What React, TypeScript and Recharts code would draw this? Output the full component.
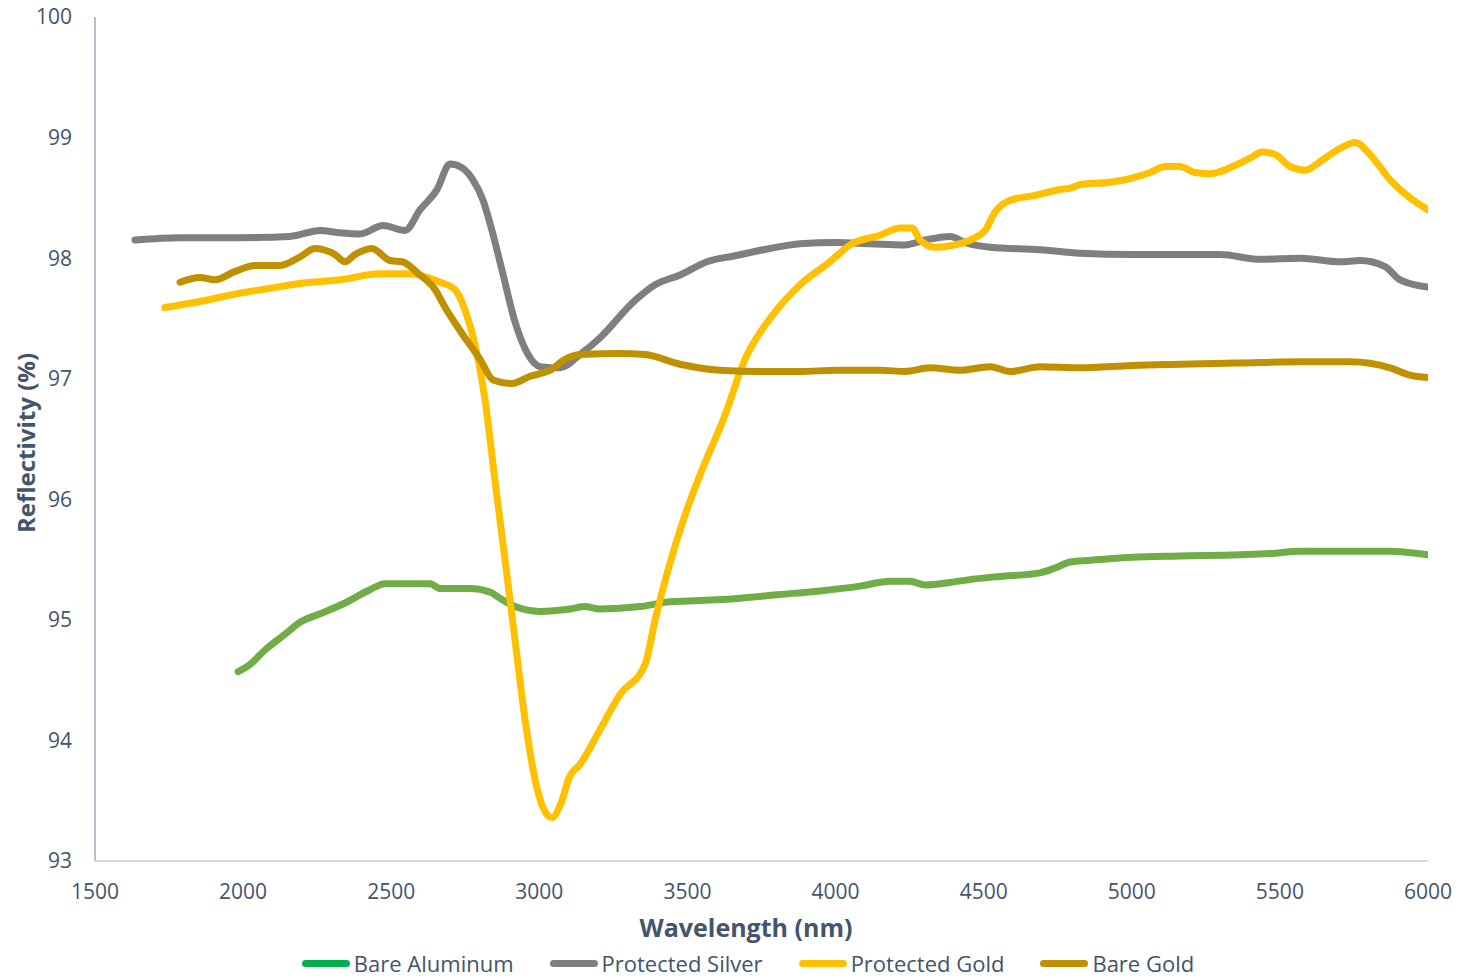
import React from 'react'
import { LineChart, Line, XAxis, YAxis } from 'recharts'

// wavelength (nm) / reflectivity (%)
const alumWl = [1983, 2023, 2074, 2141, 2192, 2260, 2344, 2428, 2479, 2530, 2631, 2665, 2766, 2834, 2867, 2918, 3002, 3104, 3154, 3205, 3340, 3441, 3542, 3678, 3813, 3948, 4083, 4184, 4251, 4302, 4387, 4471, 4555, 4690, 4741, 4792, 4893, 5001, 5163, 5366, 5467, 5568, 5737, 5872, 6000]
const alumRef = [94.57, 94.63, 94.75, 94.88, 94.98, 95.05, 95.14, 95.25, 95.3, 95.3, 95.3, 95.26, 95.26, 95.23, 95.18, 95.11, 95.07, 95.09, 95.11, 95.09, 95.11, 95.15, 95.16, 95.18, 95.21, 95.24, 95.28, 95.32, 95.32, 95.29, 95.31, 95.34, 95.36, 95.39, 95.43, 95.48, 95.5, 95.52, 95.53, 95.54, 95.55, 95.57, 95.57, 95.57, 95.54]

const silverWl = [1635, 1787, 1990, 2158, 2260, 2327, 2395, 2472, 2547, 2597, 2655, 2698, 2739, 2773, 2810, 2840, 2874, 2918, 2962, 3002, 3070, 3137, 3205, 3323, 3391, 3475, 3566, 3661, 3779, 3880, 4002, 4116, 4235, 4302, 4387, 4437, 4522, 4690, 4825, 5001, 5163, 5298, 5433, 5568, 5703, 5771, 5855, 5906, 6000]
const silverRef = [98.15, 98.17, 98.17, 98.18, 98.23, 98.21, 98.2, 98.27, 98.23, 98.4, 98.57, 98.78, 98.75, 98.66, 98.48, 98.23, 97.9, 97.47, 97.2, 97.1, 97.09, 97.2, 97.34, 97.65, 97.78, 97.86, 97.97, 98.02, 98.08, 98.12, 98.13, 98.12, 98.11, 98.15, 98.18, 98.13, 98.09, 98.07, 98.04, 98.03, 98.03, 98.03, 97.99, 98.0, 97.97, 97.98, 97.93, 97.82, 97.76]

const pGoldWl = [1736, 1854, 1990, 2091, 2192, 2327, 2462, 2564, 2665, 2715, 2749, 2783, 2817, 2850, 2884, 2918, 2952, 2986, 3013, 3043, 3070, 3104, 3137, 3205, 3272, 3357, 3391, 3434, 3492, 3542, 3627, 3694, 3779, 3880, 3981, 4049, 4150, 4218, 4258, 4285, 4336, 4403, 4471, 4505, 4538, 4589, 4673, 4758, 4792, 4825, 4927, 4994, 5062, 5112, 5163, 5213, 5264, 5332, 5399, 5440, 5484, 5534, 5585, 5635, 5703, 5754, 5804, 5872, 5939, 6000]
const pGoldRef = [97.59, 97.64, 97.71, 97.75, 97.79, 97.82, 97.87, 97.87, 97.8, 97.74, 97.57, 97.28, 96.82, 96.16, 95.5, 94.83, 94.17, 93.67, 93.44, 93.36, 93.46, 93.71, 93.8, 94.09, 94.38, 94.63, 95.0, 95.41, 95.87, 96.2, 96.7, 97.16, 97.5, 97.78, 97.97, 98.11, 98.19, 98.25, 98.25, 98.15, 98.09, 98.11, 98.17, 98.23, 98.38, 98.48, 98.52, 98.57, 98.58, 98.61, 98.63, 98.66, 98.71, 98.76, 98.76, 98.71, 98.7, 98.75, 98.83, 98.88, 98.86, 98.76, 98.73, 98.8, 98.91, 98.96, 98.86, 98.65, 98.5, 98.4]

const bGoldWl = [1787, 1854, 1905, 1973, 2040, 2125, 2192, 2243, 2310, 2344, 2378, 2435, 2496, 2537, 2597, 2648, 2682, 2732, 2800, 2844, 2908, 2969, 3036, 3087, 3137, 3272, 3357, 3475, 3610, 3745, 3880, 4002, 4150, 4235, 4319, 4420, 4522, 4589, 4690, 4825, 5001, 5163, 5366, 5568, 5737, 5872, 5939, 6000]
const bGoldRef = [97.8, 97.84, 97.82, 97.89, 97.94, 97.94, 98.01, 98.08, 98.03, 97.97, 98.03, 98.08, 97.98, 97.97, 97.86, 97.74, 97.59, 97.4, 97.16, 96.99, 96.96, 97.02, 97.07, 97.16, 97.2, 97.21, 97.2, 97.12, 97.07, 97.06, 97.06, 97.07, 97.07, 97.06, 97.09, 97.07, 97.1, 97.06, 97.1, 97.09, 97.11, 97.12, 97.13, 97.14, 97.14, 97.09, 97.03, 97.01]

const xTicks = [1500, 2000, 2500, 3000, 3500, 4000, 4500, 5000, 5500, 6000]
const yTicks = [93, 94, 95, 96, 97, 98, 99, 100]

const zip = (xs: number[], ys: number[]) => xs.map((x, i) => ({ x, y: ys[i] }))

const series = [
  { name: 'Bare Aluminum', data: zip(alumWl, alumRef), stroke: '#70AD47', swatch: '#00B050' },
  { name: 'Protected Silver', data: zip(silverWl, silverRef), stroke: '#7F7F7F', swatch: '#7F7F7F' },
  { name: 'Protected Gold', data: zip(pGoldWl, pGoldRef), stroke: '#FFC000', swatch: '#FFC000' },
  { name: 'Bare Gold', data: zip(bGoldWl, bGoldRef), stroke: '#BF9000', swatch: '#BF9000' },
]

const textColor = '#44546A'
const font = '"Open Sans", sans-serif'
const tickStyle = { fill: textColor, fontSize: 21, fontFamily: font }

export default function App() {
  return (
    <div
      style={{
        position: 'absolute',
        left: 0,
        top: 0,
        width: 1464,
        height: 980,
        overflow: 'hidden',
        background: '#fff',
        fontFamily: font,
      }}
    >
      <LineChart
        width={1464}
        height={980}
        margin={{ top: 17, right: 36, bottom: 89, left: 35 }}
      >
        <XAxis
          dataKey="x"
          type="number"
          domain={[1500, 6000]}
          ticks={xTicks}
          allowDataOverflow
          height={30}
          tickLine={false}
          tickSize={0}
          tickMargin={23}
          axisLine={{ stroke: '#D9D9D9', strokeWidth: 2 }}
          tick={tickStyle}
        />
        <YAxis
          type="number"
          domain={[93, 100]}
          ticks={yTicks}
          allowDataOverflow
          width={60}
          tickLine={false}
          tickSize={0}
          tickMargin={23}
          axisLine={{ stroke: '#B4C0D0', strokeWidth: 2 }}
          tick={tickStyle}
        />
        {series.map((s) => (
          <Line
            key={s.name}
            data={s.data}
            dataKey="y"
            name={s.name}
            type="monotone"
            stroke={s.stroke}
            strokeWidth={7}
            strokeLinejoin="round"
            strokeLinecap="round"
            dot={false}
            activeDot={false}
            isAnimationActive={false}
          />
        ))}
      </LineChart>

      {/* axis titles */}
      <div
        style={{
          position: 'absolute',
          left: 0,
          top: 910,
          width: 1492,
          textAlign: 'center',
          fontSize: 25,
          fontWeight: 700,
          color: textColor,
        }}
      >
        Wavelength (nm)
      </div>
      <div
        style={{
          position: 'absolute',
          left: 25,
          top: 443,
          transform: 'translate(-50%, -50%) rotate(-90deg)',
          whiteSpace: 'nowrap',
          fontSize: 24,
          fontWeight: 700,
          color: textColor,
        }}
      >
        Reflectivity (%)
      </div>

      {/* legend */}
      <div
        style={{
          position: 'absolute',
          left: 0,
          top: 949,
          width: 1496,
          display: 'flex',
          justifyContent: 'center',
          gap: 36,
          fontSize: 22,
          lineHeight: '28px',
          color: textColor,
        }}
      >
        {series.map((s) => (
          <div key={s.name} style={{ display: 'flex', alignItems: 'center', gap: 4 }}>
            <span
              style={{
                display: 'inline-block',
                width: 48,
                height: 7,
                borderRadius: 4,
                background: s.swatch,
              }}
            />
            <span>{s.name}</span>
          </div>
        ))}
      </div>
    </div>
  )
}
